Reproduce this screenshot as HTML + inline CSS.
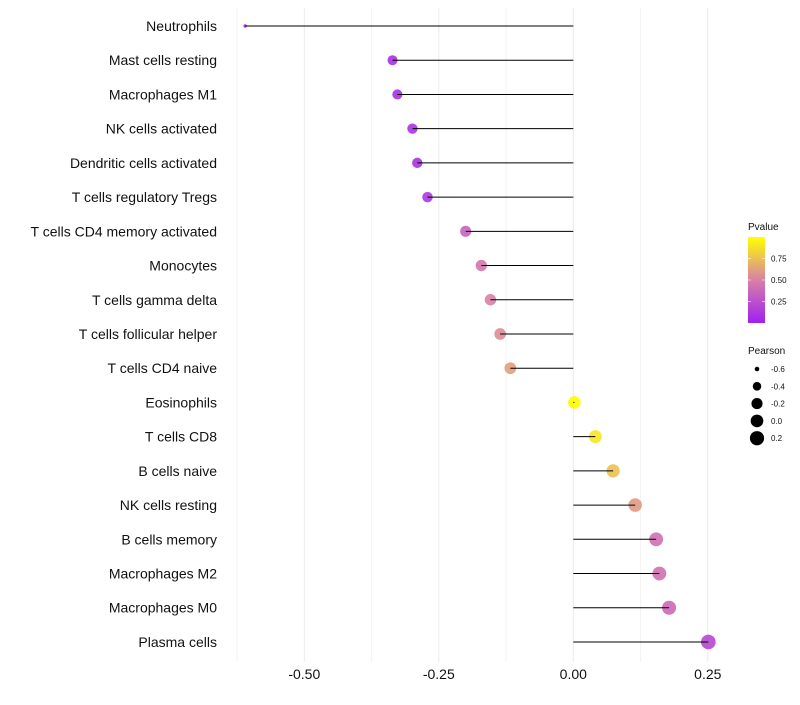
<!DOCTYPE html>
<html><head><meta charset="utf-8"><style>
body{margin:0;background:#fff;font-family:"Liberation Sans",sans-serif}
svg text{font-family:"Liberation Sans",sans-serif}
</style></head><body>
<svg id="c" width="800" height="700"></svg>
<script>
const categories=["Neutrophils","Mast cells resting","Macrophages M1","NK cells activated","Dendritic cells activated","T cells regulatory  Tregs","T cells CD4 memory activated","Monocytes","T cells gamma delta","T cells follicular helper","T cells CD4 naive","Eosinophils","T cells CD8","B cells naive","NK cells resting","B cells memory","Macrophages M2","Macrophages M0","Plasma cells"];
const correlation=[-0.61,-0.336,-0.327,-0.299,-0.29,-0.271,-0.2,-0.171,-0.154,-0.136,-0.117,0.002,0.041,0.074,0.115,0.154,0.16,0.178,0.251];
const pvalues=[0.05,0.08,0.08,0.1,0.1,0.12,0.35,0.45,0.5,0.55,0.62,0.99,0.9,0.75,0.6,0.42,0.42,0.38,0.2];
const xTicks=[-0.5,-0.25,0,0.25];
const xTickLabels=["-0.50","-0.25","0.00","0.25"];
const pTicks=[0.25,0.5,0.75];
const sizeLegend=[-0.6,-0.4,-0.2,0.0,0.2];
const sizeLegendLabels=["-0.6","-0.4","-0.2","0.0","0.2"];
const NS="http://www.w3.org/2000/svg",svg=document.getElementById('c');
function mk(t,a,p){const e=document.createElementNS(NS,t);for(const k in a)e.setAttribute(k,a[k]);(p||svg).appendChild(e);return e;}
const x=v=>573.3+v*538, y=i=>26+i*34.22;
function rad(v){ // size scale
 if(v<-0.34){return 1.7+(v+0.61)/0.27*3.3;}
 return 5+(v+0.34)/0.59*2.3;}
function col(p){const a=[160,32,240],m=[216,128,165],b=[255,255,0];let c;
 if(p<0.5){const t=p/0.5;c=a.map((v,i)=>v+(m[i]-v)*t);}else{const t=(p-0.5)/0.5;c=m.map((v,i)=>v+(b[i]-v)*t);}
 return `rgb(${c.map(Math.round).join(',')})`;}
for(let v=-0.625;v<=0.3;v+=0.125){const g=mk('line',{x1:x(v),x2:x(v),y1:8,y2:662,stroke:Math.abs((v*4)%1)<1e-6?'#ebebeb':'#f3f3f3','stroke-width':1});

}
xTicks.forEach((v,i)=>{const t=mk('text',{x:x(v),y:679,'text-anchor':'middle','font-size':14,fill:'#111'});t.textContent=xTickLabels[i];

});
categories.forEach((c,i)=>{
 const t=mk('text',{x:217,y:y(i)+5,'text-anchor':'end','font-size':14,fill:'#111'});t.textContent=c;
 
 
 const d=mk('circle',{cx:x(correlation[i]),cy:y(i),r:rad(correlation[i]),fill:col(pvalues[i]),'fill-opacity':0.9});
 
 
 const l=mk('line',{x1:x(0),x2:x(correlation[i]),y1:y(i),y2:y(i),stroke:'#000','stroke-width':1});
 
 
});
const tt=mk('text',{x:748,y:230,'font-size':10,fill:'#111'});tt.textContent='Pvalue';


const defs=mk('defs',{});const lg=mk('linearGradient',{id:'g',x1:0,y1:1,x2:0,y2:0},defs);
[0,0.25,0.5,0.75,1].forEach(s=>mk('stop',{offset:s,'stop-color':col(s)},lg));
const bar=mk('rect',{x:748,y:237,width:17,height:86,fill:'url(#g)'});


pTicks.forEach(p=>{const yy=323-p*86;
 mk('line',{x1:748,x2:751,y1:yy,y2:yy,stroke:'#fff','stroke-width':0.6});mk('line',{x1:762,x2:765,y1:yy,y2:yy,stroke:'#fff','stroke-width':0.6});
 const t=mk('text',{x:771,y:yy+3,'font-size':8,fill:'#111'});t.textContent=p.toFixed(2);
 
 });
const st=mk('text',{x:748,y:354,'font-size':10,fill:'#111'});st.textContent='Pearson';


sizeLegend.forEach((v,i)=>{const yy=369+i*17.3;
 const c=mk('circle',{cx:757,cy:yy,r:Math.max(2.3,rad(v))});
 
 
 const t=mk('text',{x:771,y:yy+3,'font-size':8,fill:'#111'});t.textContent=sizeLegendLabels[i];
 
 });
</script>
</body></html>
